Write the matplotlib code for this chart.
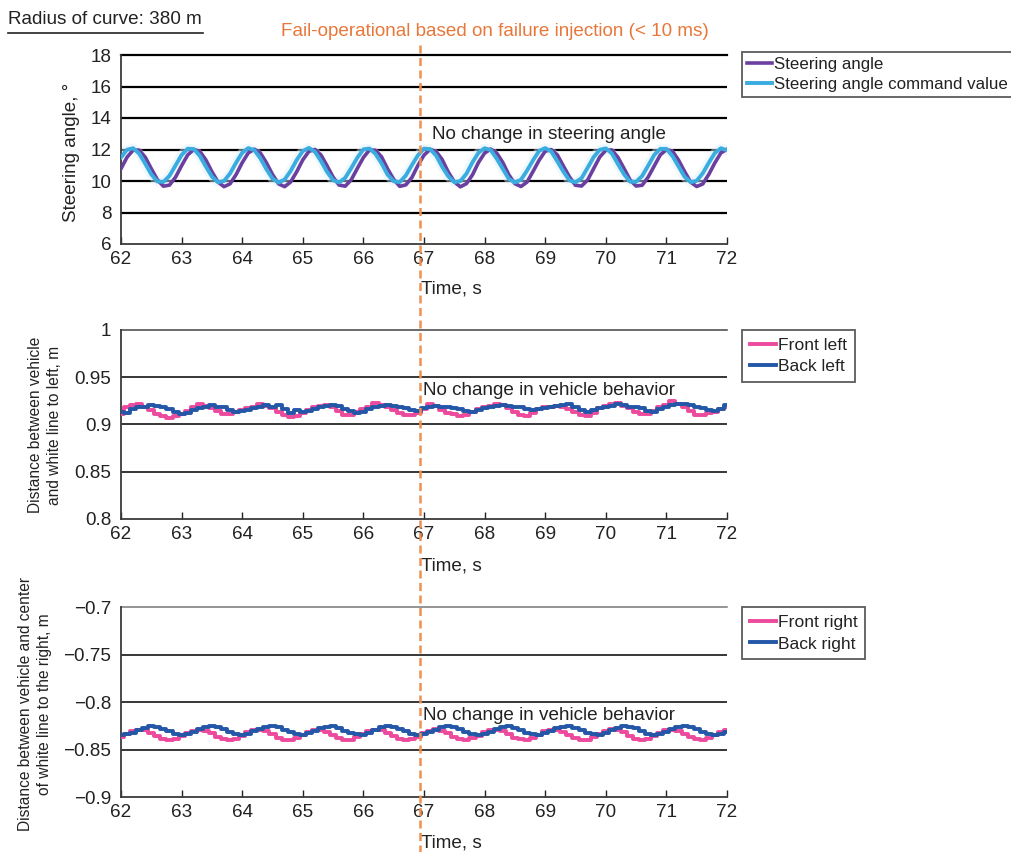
import numpy as np
import matplotlib
matplotlib.use("Agg")
import matplotlib.pyplot as plt
from matplotlib.lines import Line2D
from matplotlib.ticker import FuncFormatter

plt.rcParams['font.family'] = ['Liberation Sans', 'DejaVu Sans']

# sample times, 0.1 s apart (62 .. 72 s)
time_s = np.linspace(62, 72, 101)

# --- panel 1: steering angle (deg) ---
steer_cmd = [
    11.50, 11.99, 12.08, 11.74, 11.10, 10.42, 9.97, 9.94, 10.33, 10.99, 11.65, 12.05, 12.03,
    11.60, 10.92, 10.28, 9.92, 10.00, 10.48, 11.17, 11.79, 12.09, 11.96, 11.44, 10.75, 10.15,
    9.90, 10.09, 10.64, 11.34, 11.90, 12.10, 11.86, 11.27, 10.58, 10.05, 9.91, 10.20, 10.82,
    11.48, 12.01, 12.06, 11.72, 11.12, 10.40, 9.98, 9.93, 10.35, 11.01, 11.63, 12.06, 12.02,
    11.62, 10.90, 10.30, 9.93, 9.99, 10.46, 11.19, 11.80, 12.08, 11.97, 11.42, 10.77, 10.13,
    9.91, 10.08, 10.66, 11.32, 11.91, 12.09, 11.87, 11.25, 10.60, 10.04, 9.92, 10.18, 10.84,
    11.52, 11.98, 12.07, 11.75, 11.08, 10.43, 9.96, 9.95, 10.32, 10.98, 11.66, 12.04, 12.04,
    11.59, 10.93, 10.27, 9.93, 10.01, 10.49, 11.16, 11.78, 12.08, 11.95,
]
steer_act = [
    10.78, 11.51, 11.96, 11.96, 11.51, 10.78, 10.08, 9.67, 9.74, 10.24, 10.97, 11.65, 12.00,
    11.88, 11.34, 10.59, 9.94, 9.64, 9.82, 10.41, 11.16, 11.78, 12.02, 11.78, 11.16, 10.41,
    9.82, 9.64, 9.94, 10.59, 11.34, 11.88, 12.00, 11.65, 10.97, 10.24, 9.74, 9.67, 10.08,
    10.80, 11.49, 11.97, 11.95, 11.53, 10.76, 10.10, 9.66, 9.75, 10.22, 10.99, 11.64, 12.01,
    11.87, 11.36, 10.57, 9.95, 9.63, 9.83, 10.39, 11.18, 11.77, 12.03, 11.77, 11.18, 10.39,
    9.83, 9.65, 9.93, 10.61, 11.32, 11.89, 11.99, 11.66, 10.95, 10.26, 9.73, 9.68, 10.06,
    10.79, 11.52, 11.95, 11.97, 11.50, 10.80, 10.07, 9.68, 9.73, 10.25, 10.96, 11.66, 11.99,
    11.89, 11.33, 10.60, 9.93, 9.65, 9.81, 10.42, 11.15, 11.79, 12.01,
]

# --- panel 2: distance to white line on the left (m) ---
front_left = [
    0.911, 0.918, 0.921, 0.922, 0.919, 0.915, 0.911, 0.909, 0.907, 0.909, 0.911, 0.914, 0.918,
    0.922, 0.920, 0.917, 0.914, 0.911, 0.911, 0.913, 0.915, 0.917, 0.919, 0.922, 0.920, 0.917,
    0.913, 0.910, 0.908, 0.909, 0.912, 0.915, 0.918, 0.920, 0.921, 0.919, 0.914, 0.910, 0.910,
    0.913, 0.916, 0.919, 0.923, 0.921, 0.918, 0.915, 0.912, 0.910, 0.910, 0.912, 0.916, 0.922,
    0.920, 0.915, 0.912, 0.911, 0.909, 0.910, 0.913, 0.916, 0.918, 0.920, 0.922, 0.921, 0.917,
    0.913, 0.910, 0.909, 0.912, 0.916, 0.918, 0.919, 0.920, 0.918, 0.916, 0.913, 0.910, 0.909,
    0.912, 0.917, 0.920, 0.922, 0.923, 0.920, 0.917, 0.913, 0.911, 0.911, 0.914, 0.918, 0.921,
    0.925, 0.922, 0.918, 0.914, 0.910, 0.910, 0.912, 0.913, 0.916, 0.918,
]
back_left = [
    0.913, 0.912, 0.916, 0.918, 0.919, 0.921, 0.920, 0.919, 0.916, 0.913, 0.911, 0.912, 0.915,
    0.917, 0.918, 0.921, 0.918, 0.918, 0.915, 0.913, 0.914, 0.915, 0.917, 0.918, 0.921, 0.919,
    0.921, 0.916, 0.912, 0.915, 0.913, 0.914, 0.916, 0.918, 0.920, 0.921, 0.920, 0.916, 0.914,
    0.912, 0.913, 0.916, 0.918, 0.920, 0.921, 0.920, 0.918, 0.917, 0.915, 0.914, 0.917, 0.918,
    0.920, 0.919, 0.918, 0.917, 0.916, 0.914, 0.913, 0.915, 0.917, 0.919, 0.920, 0.921, 0.920,
    0.918, 0.918, 0.916, 0.915, 0.916, 0.917, 0.918, 0.920, 0.921, 0.922, 0.919, 0.915, 0.913,
    0.915, 0.917, 0.918, 0.920, 0.922, 0.921, 0.919, 0.918, 0.917, 0.914, 0.913, 0.916, 0.919,
    0.921, 0.922, 0.922, 0.921, 0.919, 0.917, 0.915, 0.914, 0.916, 0.921,
]

# --- panel 3: distance to centre of white line on the right (m) ---
front_right = [
    -0.8371, -0.8337, -0.8306, -0.8290, -0.8297, -0.8323, -0.8358, -0.8387, -0.8400, -0.8391,
    -0.8363, -0.8328, -0.8300, -0.8290, -0.8302, -0.8331, -0.8366, -0.8392, -0.8400, -0.8385,
    -0.8354, -0.8320, -0.8296, -0.8291, -0.8308, -0.8340, -0.8374, -0.8396, -0.8398, -0.8378,
    -0.8345, -0.8312, -0.8292, -0.8293, -0.8315, -0.8349, -0.8381, -0.8399, -0.8395,
    -0.8369, -0.8339, -0.8304, -0.8291, -0.8295, -0.8325, -0.8356, -0.8389, -0.8401, -0.8389,
    -0.8365, -0.8326, -0.8302, -0.8289, -0.8304, -0.8329, -0.8368, -0.8390, -0.8402, -0.8383,
    -0.8356, -0.8318, -0.8297, -0.8290, -0.8310, -0.8338, -0.8376, -0.8394, -0.8399, -0.8376,
    -0.8347, -0.8310, -0.8293, -0.8292, -0.8317, -0.8347, -0.8383, -0.8397, -0.8396,
    -0.8372, -0.8335, -0.8307, -0.8289, -0.8298, -0.8321, -0.8359, -0.8386, -0.8399, -0.8392,
    -0.8361, -0.8329, -0.8299, -0.8291, -0.8301, -0.8333, -0.8365, -0.8393, -0.8401, -0.8384,
    -0.8352, -0.8321, -0.8295,
]
back_right = [
    -0.8343, -0.8342, -0.8324, -0.8296, -0.8270, -0.8256, -0.8260, -0.8279, -0.8308, -0.8333,
    -0.8345, -0.8339, -0.8317, -0.8289, -0.8265, -0.8255, -0.8263, -0.8286, -0.8315, -0.8337,
    -0.8345, -0.8335, -0.8310, -0.8282, -0.8261, -0.8255, -0.8268, -0.8293, -0.8321, -0.8341,
    -0.8344, -0.8330, -0.8303, -0.8276, -0.8258, -0.8257, -0.8273, -0.8300, -0.8327,
    -0.8341, -0.8344, -0.8322, -0.8298, -0.8268, -0.8257, -0.8259, -0.8281, -0.8306, -0.8335,
    -0.8344, -0.8340, -0.8315, -0.8291, -0.8263, -0.8256, -0.8262, -0.8288, -0.8313, -0.8338,
    -0.8346, -0.8333, -0.8312, -0.8280, -0.8262, -0.8254, -0.8269, -0.8291, -0.8323, -0.8340,
    -0.8345, -0.8328, -0.8305, -0.8274, -0.8259, -0.8256, -0.8275, -0.8298, -0.8329,
    -0.8342, -0.8343, -0.8325, -0.8295, -0.8271, -0.8255, -0.8261, -0.8278, -0.8309, -0.8332,
    -0.8346, -0.8338, -0.8318, -0.8288, -0.8266, -0.8256, -0.8264, -0.8285, -0.8316, -0.8336,
    -0.8344, -0.8334, -0.8311,
]

failure_time = 66.93

PURPLE = '#6B3FA0'
CYAN = '#3AACDF'
PINK = '#EC4A9C'
BLUE = '#2457A7'
ORANGE = '#F0904F'
TEXT = '#222222'
FS = 13.6

W, H = 1012, 852
fig = plt.figure(figsize=(W / 100, H / 100), dpi=100)


def px_axes(left, top, right, bottom):
    return fig.add_axes([left / W, 1 - bottom / H, (right - left) / W, (bottom - top) / H])


def style_axes(ax, yticks, grid_lw, top_color, neg=False):
    ax.set_xlim(62, 72)
    ax.set_ylim(yticks[0], yticks[-1])
    ax.set_xticks(range(62, 73))
    ax.set_yticks(yticks)
    if neg:
        ax.yaxis.set_major_formatter(FuncFormatter(lambda v, p: f'{v:g}'.replace('-', '\u2212')))
    else:
        ax.yaxis.set_major_formatter(FuncFormatter(lambda v, p: f'{v:g}'))
    for y in yticks[1:-1]:
        ax.axhline(y, color='black', lw=grid_lw, zorder=1)
    ax.axhline(yticks[-1], color=top_color, lw=grid_lw, zorder=1, clip_on=False)
    ax.spines['right'].set_visible(False)
    ax.spines['top'].set_visible(False)
    for s in ('left', 'bottom'):
        ax.spines[s].set_color('#3a3a3a')
        ax.spines[s].set_linewidth(1.3)
    ax.tick_params(axis='x', direction='in', length=5, width=1, pad=5, labelsize=FS,
                   colors=TEXT)
    ax.tick_params(axis='y', length=0, pad=7, labelsize=FS, colors=TEXT)


def add_legend(ax, top_px, size, borderpad, spacing):
    leg = ax.legend(loc='upper left', bbox_to_anchor=(742 / W, 1 - top_px / H),
                    bbox_transform=fig.transFigure, borderaxespad=0, fancybox=False,
                    edgecolor='#333333', fontsize=size,
                    handlelength=1.5, handletextpad=0.1, labelspacing=spacing,
                    borderpad=borderpad)
    leg.get_frame().set_linewidth(1.3)
    for t in leg.get_texts():
        t.set_color(TEXT)
    return leg


ax1 = px_axes(121, 55, 727, 244)
ax2 = px_axes(121, 330, 727, 519)
ax3 = px_axes(121, 607, 727, 797)

# panel 1
ax1.plot(time_s, steer_cmd, color='#DDF0FA', lw=7, alpha=0.45, zorder=2, label='_nolegend_')
ax1.plot(time_s, steer_act, color=PURPLE, lw=2.6, zorder=3, label='Steering angle')
ax1.plot(time_s, steer_cmd, color=CYAN, lw=2.8, zorder=4, label='Steering angle command value')
style_axes(ax1, [6, 8, 10, 12, 14, 16, 18], 1.6, 'black')
add_legend(ax1, 52, 12.2, 0.3, 0.3)
ax1.text(67.13, 12.98, 'No change in steering angle', fontsize=FS, color=TEXT, va='center')

# panel 2
ax2.plot(time_s, front_left, color=PINK, lw=2.8, drawstyle='steps-mid', zorder=3, label='Front left')
ax2.plot(time_s, back_left, color=BLUE, lw=2.8, drawstyle='steps-mid', zorder=4, label='Back left')
style_axes(ax2, [0.8, 0.85, 0.9, 0.95, 1.0], 1.1, '#444444')
add_legend(ax2, 330, 12.6, 0.45, 0.35)
ax2.text(66.98, 0.9365, 'No change in vehicle behavior', fontsize=FS, color=TEXT, va='center')

# panel 3
ax3.plot(time_s, front_right, color=PINK, lw=2.8, drawstyle='steps-mid', zorder=3, label='Front right')
ax3.plot(time_s, back_right, color=BLUE, lw=2.8, drawstyle='steps-mid', zorder=4, label='Back right')
style_axes(ax3, [-0.9, -0.85, -0.8, -0.75, -0.7], 1.1, '#777777', neg=True)
add_legend(ax3, 607, 12.6, 0.45, 0.35)
ax3.text(66.98, -0.8137, 'No change in vehicle behavior', fontsize=FS, color=TEXT, va='center')

# axis labels
fig.text(72 / W, 1 - 152 / H, 'Steering angle, \u00b0', rotation=90, fontsize=FS,
         ha='center', va='center', color=TEXT)
fig.text(45 / W, 1 - 425 / H, 'Distance between vehicle\nand white line to left, m',
         rotation=90, fontsize=11.2, ha='center', va='center',
         multialignment='center', linespacing=1.35, color=TEXT)
fig.text(35 / W, 1 - 704 / H, 'Distance between vehicle and center\nof white line to the right, m',
         rotation=90, fontsize=11.2, ha='center', va='center',
         multialignment='center', linespacing=1.35, color=TEXT)
for y_px in (289, 566, 843):
    fig.text(421 / W, 1 - y_px / H, 'Time, s', fontsize=FS, ha='left', va='center', color=TEXT)

# header texts
fig.text(8 / W, 1 - 20 / H, 'Radius of curve: 380 m', fontsize=FS, ha='left', va='center', color=TEXT)
fig.add_artist(Line2D([8 / W, 203 / W], [1 - 33 / H] * 2, color=TEXT, lw=1.2))
fig.text(495 / W, 1 - 32 / H, 'Fail-operational based on failure injection (< 10 ms)',
         fontsize=FS, ha='center', va='center', color='#E8773A')

# failure-injection marker across all panels
x_disp = ax1.transData.transform((failure_time, 0))[0]
xf = x_disp / fig.bbox.width
fig.add_artist(Line2D([xf, xf], [1 - 45 / H, 0], color=ORANGE, lw=1.8,
                      dashes=(3.2, 1.8), zorder=10))

fig.savefig('out.png', dpi=100)
